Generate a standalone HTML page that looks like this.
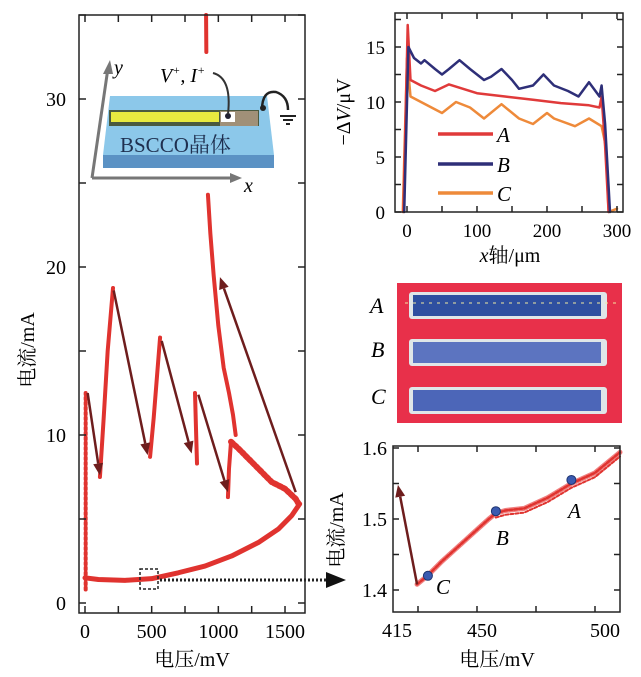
<!DOCTYPE html>
<html><head><meta charset="utf-8"><style>
body{margin:0;background:#fff;}
svg{display:block;font-family:"Liberation Serif","Noto Serif CJK SC",serif;}
</style></head><body>
<svg id="fig" width="641" height="677" viewBox="0 0 641 677">
<g id="main"></g>
<g id="inset">
  <line x1="92" y1="178" x2="108" y2="68" stroke="#777" stroke-width="3"/>
  <polygon points="110,60 103,74 113,74" fill="#777"/>
  <line x1="92" y1="178" x2="232" y2="178" stroke="#777" stroke-width="3"/>
  <polygon points="242,178 230,173 230,183" fill="#777"/>
  <text x="114" y="74" font-size="20" font-style="italic">y</text>
  <text x="244" y="192" font-size="20" font-style="italic">x</text>
  <polygon points="110,96 267,96 274,155 103,155" fill="#8cc8ea"/>
  <polygon points="103,155 274,155 274,168 103,168" fill="#5b92c4"/>
  <rect x="109" y="110" width="150" height="16" fill="#4a5a40"/>
  <rect x="111" y="112" width="108" height="10" fill="#e8ea40"/>
  <rect x="220" y="111" width="38" height="15" fill="#a09078"/>
  <rect x="221" y="112" width="14" height="10" fill="#fff"/>
  <circle cx="228" cy="116" r="3" fill="#223"/>
  <path d="M213,73 Q232,78 228,114" fill="none" stroke="#333" stroke-width="2"/>
  <path d="M262,110 Q262,90 276,92 Q288,96 288,110" fill="none" stroke="#222" stroke-width="2.5"/>
  <circle cx="263" cy="108" r="3" fill="#222"/>
  <line x1="280" y1="116" x2="296" y2="116" stroke="#222" stroke-width="2"/>
  <line x1="283" y1="120" x2="293" y2="120" stroke="#222" stroke-width="2"/>
  <line x1="286" y1="124" x2="290" y2="124" stroke="#222" stroke-width="2"/>
  <text x="160" y="82" font-size="20" font-style="italic">V<tspan dy="-8" font-size="12">+</tspan><tspan dy="8">, I</tspan><tspan dy="-8" font-size="12">+</tspan></text>
  <text x="120" y="152" font-size="21" fill="#1f3050">BSCCO晶体</text>
</g>
<g id="tr"></g>
<g id="img">
  <rect x="397" y="283" width="225" height="140" fill="#e8304a"/>
  <rect x="409" y="292" width="198" height="27" rx="3" fill="#dfe6e8"/>
  <rect x="413" y="295" width="188" height="21" fill="#2e4fa0"/>
  <line x1="405" y1="303" x2="620" y2="303" stroke="#f0e8a0" stroke-width="1" stroke-dasharray="3,5"/>
  <rect x="409" y="339" width="198" height="27" rx="3" fill="#dfe6e8"/>
  <rect x="413" y="342" width="188" height="21" fill="#5c74c0"/>
  <rect x="409" y="387" width="198" height="27" rx="3" fill="#dfe6e8"/>
  <rect x="413" y="390" width="188" height="21" fill="#4c66b8"/>
  <text x="370" y="313" font-size="22" font-style="italic">A</text>
  <text x="371" y="357" font-size="22" font-style="italic">B</text>
  <text x="371" y="404" font-size="22" font-style="italic">C</text>
</g>
<g id="br"></g>
</svg>
<script>
// ===== Main IV chart data =====
const mainXTicks=[0,500,1000,1500];
const mainYTicks=[0,10,20,30];
const lowerBranchV=[0,100,300,500,700,900,1100,1300,1450,1550,1610];
const lowerBranchI=[1.5,1.4,1.35,1.45,1.8,2.2,2.8,3.6,4.4,5.2,5.9];
const cloudV=[1095,1150,1200,1300,1400,1500,1580,1610];
const cloudI=[9.6,9.2,8.8,8.0,7.2,6.8,6.2,5.8];
const startV=[5,5,5,5];
const startI=[0.8,4,8,12.5];
const rise1V=[112,140,170,210];
const rise1I=[7.5,11,15,18.75];
const rise2V=[488,515,540,563];
const rise2I=[8.7,11,13.5,15.8];
const rise3V=[840,832,825];
const rise3I=[8.3,10.5,12.5];
const rise4V=[1072,1080,1095];
const rise4I=[6.3,8,9.6];
const bigFallV=[922,940,965,1000,1040,1080,1110,1130];
const bigFallI=[24.3,22,19.5,16.5,14,12.5,11.2,10];
const topV=[908,910];
const topI=[35,32.8];
const arrowFromV=[20,215,575,850,1580];
const arrowFromI=[12.5,18.6,15.6,12.4,6.6];
const arrowToV=[112,470,800,1072,1012];
const arrowToI=[7.6,8.8,8.9,6.6,19.4];
// ===== Top-right chart data =====
const trXTicks=[0,100,200,300];
const trYTicks=[0,5,10,15];
const seriesAX=[-5,1,5,20,40,60,80,100,140,180,220,260,275,278,283,288];
const seriesAY=[0,17,12,11.5,11,11.6,11.2,10.8,10.5,10.2,9.9,9.7,9.5,10.5,6,0];
const seriesBX=[-4,2,10,20,25,40,50,60,75,90,110,120,135,150,160,180,195,210,230,245,260,275,278,283,290];
const seriesBY=[0,15,14,13.5,13.8,13,12.5,13,13.8,13,12,12.3,13,12,11.2,11.5,12.5,11.5,11,10.5,11.8,10.5,11.5,8,0];
const seriesCX=[-6,0,5,20,50,70,90,110,135,160,180,200,210,240,260,278,284,288,300];
const seriesCY=[0,14,10.5,10,9,10,9.5,8.5,9.8,8.5,8,9,8.5,7.8,8.5,7.8,6,0,0.3];
// ===== Bottom-right chart data =====
const brYTicks=[1.4,1.5,1.6];
const brXLabels=["415","450","500"];
const curveV=[424.6,429,435,440,445,450,455,458,462,470,480,490,500,510.6];
const curveI=[1.408,1.42,1.44,1.455,1.47,1.485,1.5,1.508,1.512,1.515,1.53,1.55,1.565,1.594];
const pointNames=["C","B","A"];
const pointV=[429.2,458,490];
const pointI=[1.42,1.511,1.555];

const NS="http://www.w3.org/2000/svg";
function mk(parent,tag,attrs){const e=document.createElementNS(NS,tag);for(const k in attrs)e.setAttribute(k,attrs[k]);parent.appendChild(e);return e;}

// ---------- main ----------
const M=document.getElementById('main');
const mx=v=>85+v*66.67/500, my=i=>603-i*16.8;
const RED="#e0332f", BRN="#6e1d1d";
function poly(g,V,I,fx,fy,col,w,dash,name){
  const p=mk(g,'polyline',{points:V.map((v,k)=>fx(v)+','+fy(I[k])).join(' '),fill:'none',stroke:col,'stroke-width':w,'stroke-linecap':'round','stroke-linejoin':'round'});
  if(dash)p.setAttribute('stroke-dasharray',dash);
  
  
  return p;
}
poly(M,lowerBranchV,lowerBranchI,mx,my,RED,5,null,'lower-branch');
poly(M,cloudV,cloudI,mx,my,RED,6,'3,2','upper-branch-cloud');
poly(M,startV,startI,mx,my,RED,4,'2,3','start-branch');
poly(M,rise1V,rise1I,mx,my,RED,4,null,'rise-1');
poly(M,rise2V,rise2I,mx,my,RED,4,null,'rise-2');
poly(M,rise3V,rise3I,mx,my,RED,4,null,'rise-3');
poly(M,rise4V,rise4I,mx,my,RED,4,null,'rise-4');
poly(M,bigFallV,bigFallI,mx,my,RED,4,null,'big-fall-branch');
poly(M,topV,topI,mx,my,RED,4,null,'top-branch');
function arrow(g,x1,y1,x2,y2,col,w,name){
  const a=Math.atan2(y2-y1,x2-x1),L=12,W=5;
  const bx=x2-L*Math.cos(a),by=y2-L*Math.sin(a);
  const l=mk(g,'line',{x1:x1,y1:y1,x2:bx,y2:by,stroke:col,'stroke-width':w});
  
  
  const h=mk(g,'polygon',{points:`${x2},${y2} ${bx-W*Math.sin(a)},${by+W*Math.cos(a)} ${bx+W*Math.sin(a)},${by-W*Math.cos(a)}`,fill:col});
  
  
}
arrowFromV.forEach((v,k)=>arrow(M,mx(v),my(arrowFromI[k]),mx(arrowToV[k]),my(arrowToI[k]),BRN,2.5,'transition-arrow'));
const mf=mk(M,'rect',{x:79,y:15,width:226,height:598,fill:'none',stroke:'#222','stroke-width':1.5});


for(let v=0;v<=1625;v+=250){const x=mx(v);mk(M,'line',{x1:x,y1:613,x2:x,y2:606,stroke:'#222','stroke-width':1.5});mk(M,'line',{x1:x,y1:15,x2:x,y2:22,stroke:'#222','stroke-width':1.5});}
for(let i=0;i<=35;i+=5){const y=my(i);mk(M,'line',{x1:79,y1:y,x2:86,y2:y,stroke:'#222','stroke-width':1.5});mk(M,'line',{x1:305,y1:y,x2:298,y2:y,stroke:'#222','stroke-width':1.5});}
mainXTicks.forEach(v=>{const t=mk(M,'text',{x:mx(v),y:638,'font-size':20,'text-anchor':'middle'});t.textContent=v;});
mainYTicks.forEach(v=>{const t=mk(M,'text',{x:66,y:my(v)+7,'font-size':20,'text-anchor':'end'});t.textContent=v;});
let t=mk(M,'text',{x:192,y:666,'font-size':20,'text-anchor':'middle'});t.textContent='电压/mV';


t=mk(M,'text',{x:0,y:0,'font-size':20,'text-anchor':'middle',transform:'translate(34,350) rotate(-90)'});t.textContent='电流/mA';


const box=mk(M,'rect',{x:140,y:569,width:18,height:20,fill:'none',stroke:'#222','stroke-width':1.5,'stroke-dasharray':'3,2'});


const dl=mk(M,'line',{x1:160,y1:580,x2:328,y2:580,stroke:'#222','stroke-width':3,'stroke-dasharray':'2,2'});


const dh=mk(M,'polygon',{points:'346,580 326,572 326,588',fill:'#111'});



// ---------- top right ----------
const T=document.getElementById('tr');
const tx=v=>407+v*0.7, ty=v=>212-v*11;
const tcol={A:"#e03a3a",B:"#2e2f78",C:"#ee8a3a"};
poly(T,seriesCX,seriesCY,tx,ty,tcol.C,2.5,null,'series-c-line');
poly(T,seriesAX,seriesAY,tx,ty,tcol.A,2.5,null,'series-a-line');
poly(T,seriesBX,seriesBY,tx,ty,tcol.B,2.5,null,'series-b-line');
const tf=mk(T,'rect',{x:395,y:13,width:228,height:199,fill:'none',stroke:'#222','stroke-width':1.5});


for(let v=0;v<=300;v+=50){const x=tx(v);mk(T,'line',{x1:x,y1:212,x2:x,y2:206,stroke:'#222','stroke-width':1.5});mk(T,'line',{x1:x,y1:13,x2:x,y2:19,stroke:'#222','stroke-width':1.5});}
for(let v=0;v<=17.5;v+=2.5){const y=ty(v);mk(T,'line',{x1:395,y1:y,x2:401,y2:y,stroke:'#222','stroke-width':1.5});mk(T,'line',{x1:623,y1:y,x2:617,y2:y,stroke:'#222','stroke-width':1.5});}
trXTicks.forEach(v=>{const e=mk(T,'text',{x:tx(v),y:237,'font-size':19,'text-anchor':'middle'});e.textContent=v;});
trYTicks.forEach(v=>{const e=mk(T,'text',{x:385,y:ty(v)+7,'font-size':19,'text-anchor':'end'});e.textContent=v;});
t=mk(T,'text',{x:510,y:262,'font-size':20,'text-anchor':'middle'});t.innerHTML='<tspan font-style="italic">x</tspan>轴/μm';


t=mk(T,'text',{x:0,y:0,'font-size':20,'text-anchor':'middle',transform:'translate(350,112) rotate(-90)'});t.innerHTML='−Δ<tspan font-style="italic">V</tspan>/μV';


[['A',134],['B',164],['C',193]].forEach(([n,y])=>{
  const l=mk(T,'line',{x1:438,y1:y,x2:493,y2:y,stroke:tcol[n],'stroke-width':3.5});
  
  
  const e=mk(T,'text',{x:497,y:y+8,'font-size':21,'font-style':'italic'});e.textContent=n;
  
  
});

// ---------- bottom right ----------
const B=document.getElementById('br');
const bx=v=>477+(v-450)*2.36, by=i=>590-(i-1.4)*710;
const lo=curveI.map(v=>v-0.006);
poly(B,curveV,curveI,bx,by,"#f08080",5,null,'iv-zoom-halo');
poly(B,curveV,curveI,bx,by,RED,2.5,'3,2','iv-zoom-sweep-1');
poly(B,curveV.slice(7),lo.slice(7),bx,by,RED,2,'3,2','iv-zoom-sweep-2');
arrow(B,bx(424.6),by(1.408),bx(416.5),by(1.548),BRN,2.5,'jump-arrow');
pointV.forEach((v,k)=>{
  const c=mk(B,'circle',{cx:bx(v),cy:by(pointI[k]),r:4.5,fill:'#3a5ab0',stroke:'#1e3470','stroke-width':1});
  
  
});
[['C',436,594],['B',496,545],['A',568,518]].forEach(([n,x,y])=>{const e=mk(B,'text',{x:x,y:y,'font-size':21,'font-style':'italic'});e.textContent=n;});
const bf=mk(B,'rect',{x:393,y:446,width:227,height:166,fill:'none',stroke:'#222','stroke-width':1.5});


for(let v=425;v<=510;v+=25){const x=bx(v);mk(B,'line',{x1:x,y1:612,x2:x,y2:606,stroke:'#222','stroke-width':1.5});mk(B,'line',{x1:x,y1:446,x2:x,y2:452,stroke:'#222','stroke-width':1.5});}
for(let i=1.4;i<=1.601;i+=0.05){const y=by(i);mk(B,'line',{x1:393,y1:y,x2:399,y2:y,stroke:'#222','stroke-width':1.5});mk(B,'line',{x1:620,y1:y,x2:614,y2:y,stroke:'#222','stroke-width':1.5});}
const brLabelX=[397,482,605];
brXLabels.forEach((s,k)=>{const e=mk(B,'text',{x:brLabelX[k],y:637,'font-size':20,'text-anchor':'middle'});e.textContent=s;});
brYTicks.forEach(v=>{const e=mk(B,'text',{x:387,y:by(v)+7,'font-size':20,'text-anchor':'end'});e.textContent=v.toFixed(1);});
t=mk(B,'text',{x:497,y:666,'font-size':20,'text-anchor':'middle'});t.textContent='电压/mV';


t=mk(B,'text',{x:0,y:0,'font-size':20,'text-anchor':'middle',transform:'translate(343,530) rotate(-90)'});t.textContent='电流/mA';


</script>
</body></html>
